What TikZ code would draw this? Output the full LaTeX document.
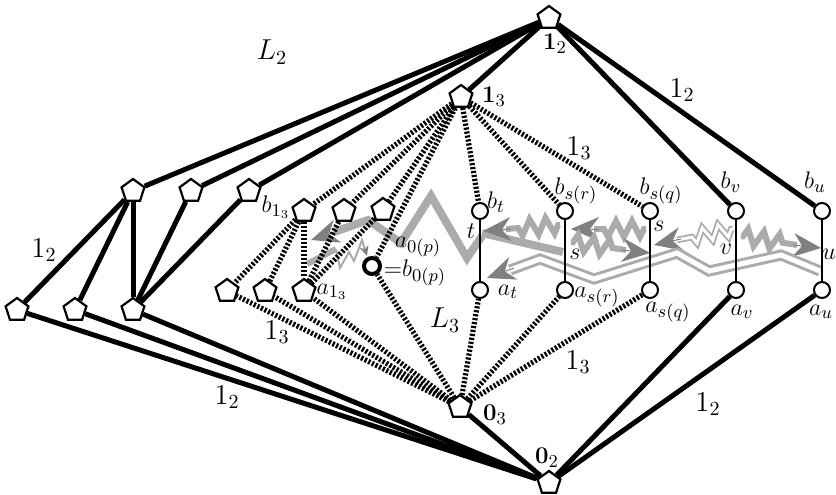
\documentclass[tikz,border=0pt]{standalone}
\usepackage{tikz}
\usetikzlibrary{shapes.geometric, arrows.meta, decorations.pathmorphing}
\usepackage{xcolor}
\definecolor{bandgray}{gray}{0.67}
\definecolor{headgray}{gray}{0.5}

\begin{document}
\begin{tikzpicture}[
        x=0.5pt, y=-0.5pt,
        font=\fontsize{13}{15}\selectfont,
        pent/.style={regular polygon, regular polygon sides=5, draw=black, fill=white, line width=1.1pt, minimum size=12pt, inner sep=0pt},
        ring/.style={circle, draw=black, fill=white, line width=1pt, minimum size=8pt, inner sep=0pt},
        bigring/.style={ring, line width=2pt, minimum size=8pt},
        lat2/.style={line width=2.5pt},
        lat3/.style={line width=2.6pt, dash pattern=on 1.1pt off 0.9pt},
        rung/.style={line width=1pt},
        band/.style={draw=bandgray, line width=4pt},
        zig/.style={draw=bandgray, line width=3pt, decorate, decoration={zigzag, segment length=8pt, amplitude=4pt, pre length=1pt, post length=5pt}},
        hollow/.style={draw=bandgray, line width=1.5pt, double=white, double distance=2.5pt},
        hollowzig/.style={draw=bandgray, line width=0.9pt, double=white, double distance=1.5pt, decorate, decoration={zigzag, segment length=8pt, amplitude=3.5pt, pre length=1pt, post length=5pt}},
        head/.style={draw=headgray, line width=0.5pt, -{Stealth[length=14pt, width=12pt, inset=4.5pt]}},
        smallhead/.style={-{Stealth[length=5pt, width=4.5pt, inset=1.5pt, color=headgray]}},
        lbl/.style={font=\fontsize{14.5}{16}\selectfont}
    ]
        \useasboundingbox (0,0) rectangle (836,494);

        % Gray moves
        \draw[band] (482,236) -- (467,258) -- (431,196) -- (401,243) -- (368,220) -- (334,232);
        \draw[head] (338,231) -- (311,240);
        \draw[bandgray, line width=3pt] (307,264) -- (336,249);
        \draw[bandgray, line width=1pt, smallhead] (336,249) -- (340,268) -- (349,252) -- (354,261) -- (362,240) -- (367,256);
        \draw[band] (482,233) -- (563,252);
        \draw[zig] (560,225) -- (506,229);
        \draw[head] (511,229) -- (483,231);
        \draw[zig] (646,229) -- (594,229);
        \draw[head] (599,229) -- (571,229);
        \draw[zig] (571,242) -- (626,250);
        \draw[head] (622,250) -- (650,253);
        \draw[zig] (741,236) -- (797,245);
        \draw[head] (793,245) -- (821,248);
        \draw[hollowzig] (733,229) -- (677,240);
        \draw[head] (681,239) -- (654,245);
        \draw[hollow] (820,271) -- (781,255) -- (709,271) -- (677,253) -- (594,279) -- (540,259) -- (510,270);
        \draw[head] (514,268) -- (487,278);

        % Nodes
        \node[pent] (top2) at (549,18) {};
        \node[pent] (top3) at (461,97) {};
        \node[pent] (bot3) at (460,407) {};
        \node[pent] (bot2) at (549,483) {};
        \node[pent] (lu1) at (133,191) {};
        \node[pent] (lu2) at (191,191) {};
        \node[pent] (lu3) at (249,191) {};
        \node[pent] (ll1) at (17,310) {};
        \node[pent] (ll2) at (75,310) {};
        \node[pent] (ll3) at (133,310) {};
        \node[pent] (b13) at (304,211) {};
        \node[pent] (mu2) at (344,211) {};
        \node[pent] (mu3) at (383,210) {};
        \node[pent] (ml1) at (227,291) {};
        \node[pent] (ml2) at (265,291) {};
        \node[pent] (a13) at (304,291) {};
        \node[bigring] (b0p) at (372,266) {};
        \node[ring] (bt) at (480,211) {};
        \node[ring] (at) at (480,290) {};
        \node[ring] (bsr) at (565,211) {};
        \node[ring] (asr) at (565,290) {};
        \node[ring] (bsq) at (650,211) {};
        \node[ring] (asq) at (650,290) {};
        \node[ring] (bv) at (736,211) {};
        \node[ring] (av) at (736,290) {};
        \node[ring] (bu) at (822,211) {};
        \node[ring] (au) at (822,290) {};

        % L2 edges
        \draw[lat2] (top2) -- (lu1);
        \draw[lat2] (top2) -- (lu2);
        \draw[lat2] (top2) -- (lu3);
        \draw[lat2] (top2) -- (top3);
        \draw[lat2] (top2) -- (bv);
        \draw[lat2] (top2) -- (bu);
        \draw[lat2] (bot2) -- (ll1);
        \draw[lat2] (bot2) -- (ll2);
        \draw[lat2] (bot2) -- (ll3);
        \draw[lat2] (bot2) -- (bot3);
        \draw[lat2] (bot2) -- (av);
        \draw[lat2] (bot2) -- (au);
        \draw[lat2] (lu1) -- (ll1);
        \draw[lat2] (lu1) -- (ll2);
        \draw[lat2] (lu1) -- (ll3);
        \draw[lat2] (lu2) -- (ll3);
        \draw[lat2] (lu3) -- (ll3);

        % L3 edges
        \draw[lat3] (top3) -- (b13);
        \draw[lat3] (top3) -- (mu2);
        \draw[lat3] (top3) -- (mu3);
        \draw[lat3] (top3) -- (b0p);
        \draw[lat3] (top3) -- (bt);
        \draw[lat3] (top3) -- (bsr);
        \draw[lat3] (top3) -- (bsq);
        \draw[lat3] (bot3) -- (ml1);
        \draw[lat3] (bot3) -- (ml2);
        \draw[lat3] (bot3) -- (a13);
        \draw[lat3] (bot3) -- (b0p);
        \draw[lat3] (bot3) -- (at);
        \draw[lat3] (bot3) -- (asr);
        \draw[lat3] (bot3) -- (asq);
        \draw[lat3] (b13) -- (ml1);
        \draw[lat3] (b13) -- (ml2);
        \draw[lat3] (b13) -- (a13);
        \draw[lat3] (mu2) -- (a13);
        \draw[lat3] (mu3) -- (a13);

        % Rungs
        \draw[rung] (bt) -- (at);
        \draw[rung] (bsr) -- (asr);
        \draw[rung] (bsq) -- (asq);
        \draw[rung] (bv) -- (av);
        \draw[rung] (bu) -- (au);

        % Labels
        \node[lbl] (nameL2) at (272,52) {$L_2$};
        \node[lbl] (nameL3) at (445,320) {$L_3$};
        \node (top2lab) at (555,44) {$\mathbf{1}_2$};
        \node (top3lab) at (494,97) {$\mathbf{1}_3$};
        \node (bot3lab) at (495,415) {$\mathbf{0}_3$};
        \node (bot2lab) at (547,458) {$\mathbf{0}_2$};
        \node[lbl] (e1) at (682,90) {$1_2$};
        \node[lbl] (e2) at (44,250) {$1_2$};
        \node[lbl] (e3) at (227,397) {$1_2$};
        \node[lbl] (e4) at (708,404) {$1_2$};
        \node[lbl] (e5) at (579,148) {$1_3$};
        \node[lbl] (e6) at (277,332) {$1_3$};
        \node[lbl] (e7) at (578,362) {$1_3$};
        \node (btlab) at (496,202) {$b_t$};
        \node (bsrlab) at (576,191) {$b_{s(r)}$};
        \node (bsqlab) at (661,191) {$b_{s(q)}$};
        \node (bvlab) at (731,182) {$b_v$};
        \node (bulab) at (815,182) {$b_u$};
        \node (tlab) at (471,231) {$t$};
        \node (srlab) at (575,254) {$s$};
        \node (sqlab) at (659,226) {$s$};
        \node (vlab) at (726,249) {$v$};
        \node (ulab) at (829,254) {$u$};
        \node (atlab) at (508,292) {$a_t$};
        \node (asrlab) at (597,297) {$a_{s(r)}$};
        \node (asqlab) at (668,312) {$a_{s(q)}$};
        \node (avlab) at (742,312) {$a_v$};
        \node (aulab) at (821,312) {$a_u$};
        \node (b13lab) at (276,207) {$b_{1_3}$};
        \node (a13lab) at (332,292) {$a_{1_3}$};
        \node (a0plab) at (418,247) {$a_{0(p)}$};
        \node (b0plab) at (415,273) {${=}b_{0(p)}$};
    \end{tikzpicture}
\end{document}
